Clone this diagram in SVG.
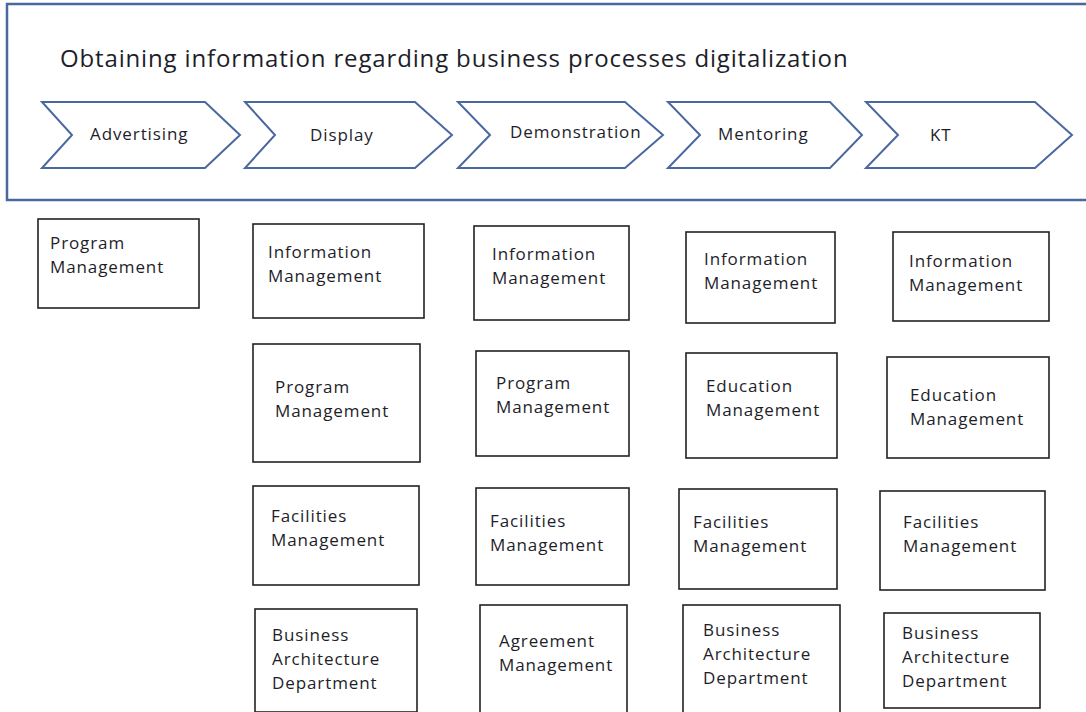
<svg xmlns="http://www.w3.org/2000/svg" width="1086" height="712" viewBox="0 0 1086 712">
<style>
.frame{fill:none;stroke:#4a68a0;stroke-width:2.5}
.chev{fill:#fff;stroke:#4a68a0;stroke-width:2}
.box{fill:#fff;stroke:#222;stroke-width:1.6}
.t{font-family:"Open Sans","Liberation Sans",sans-serif;fill:#1e1e2a}
.title{font-size:24px;letter-spacing:0.85px}
.lbl{font-size:17px;letter-spacing:0.9px}
.bt{font-size:17px;letter-spacing:0.9px}
</style>
<rect x="0" y="0" width="1086" height="712" fill="#fff"/>
<g id="frame">
<rect class="frame" x="7" y="4" width="1090" height="196"/>
<text class="t title" x="60" y="67">Obtaining information regarding business processes digitalization</text>
</g>
<g id="chevrons">
<g id="c-advertising"><polygon class="chev" points="42,102 205,102 240,135 205,168 42,168 72,135"/><text class="t lbl" x="90" y="140">Advertising</text></g>
<g id="c-display"><polygon class="chev" points="245,102 415,102 452,135 415,168 245,168 275,135"/><text class="t lbl" x="310" y="141">Display</text></g>
<g id="c-demonstration"><polygon class="chev" points="458,102 625,102 663,135 625,168 458,168 490,135"/><text class="t lbl" x="510" y="138">Demonstration</text></g>
<g id="c-mentoring"><polygon class="chev" points="668,102 830,102 862,135 830,168 668,168 700,135"/><text class="t lbl" x="718" y="140">Mentoring</text></g>
<g id="c-kt"><polygon class="chev" points="866,102 1035,102 1072,135 1035,168 866,168 898,135"/><text class="t lbl" x="930" y="141">KT</text></g>
</g>
<g id="connectors"></g>
<g id="boxes">
<g id="b1"><rect class="box" x="38" y="219" width="161" height="89"/><text class="t bt" x="50" y="249">Program</text><text class="t bt" x="50" y="273">Management</text></g>

<g id="b2a"><rect class="box" x="253" y="224" width="171" height="94"/><text class="t bt" x="268" y="258">Information</text><text class="t bt" x="268" y="282">Management</text></g>
<g id="b2b"><rect class="box" x="253" y="344" width="167" height="118"/><text class="t bt" x="275" y="393">Program</text><text class="t bt" x="275" y="417">Management</text></g>
<g id="b2c"><rect class="box" x="253" y="486" width="166" height="99"/><text class="t bt" x="271" y="522">Facilities</text><text class="t bt" x="271" y="546">Management</text></g>
<g id="b2d"><rect class="box" x="255" y="609" width="162" height="103"/><text class="t bt" x="272" y="641">Business</text><text class="t bt" x="272" y="665">Architecture</text><text class="t bt" x="272" y="689">Department</text></g>

<g id="b3a"><rect class="box" x="474" y="226" width="155" height="94"/><text class="t bt" x="492" y="260">Information</text><text class="t bt" x="492" y="284">Management</text></g>
<g id="b3b"><rect class="box" x="476" y="351" width="153" height="105"/><text class="t bt" x="496" y="389">Program</text><text class="t bt" x="496" y="413">Management</text></g>
<g id="b3c"><rect class="box" x="476" y="488" width="153" height="97"/><text class="t bt" x="490" y="527">Facilities</text><text class="t bt" x="490" y="551">Management</text></g>
<g id="b3d"><rect class="box" x="480" y="605" width="147" height="110"/><text class="t bt" x="499" y="647">Agreement</text><text class="t bt" x="499" y="671">Management</text></g>

<g id="b4a"><rect class="box" x="686" y="232" width="149" height="91"/><text class="t bt" x="704" y="265">Information</text><text class="t bt" x="704" y="289">Management</text></g>
<g id="b4b"><rect class="box" x="686" y="353" width="151" height="105"/><text class="t bt" x="706" y="392">Education</text><text class="t bt" x="706" y="416">Management</text></g>
<g id="b4c"><rect class="box" x="679" y="489" width="158" height="100"/><text class="t bt" x="693" y="528">Facilities</text><text class="t bt" x="693" y="552">Management</text></g>
<g id="b4d"><rect class="box" x="683" y="605" width="157" height="110"/><text class="t bt" x="703" y="636">Business</text><text class="t bt" x="703" y="660">Architecture</text><text class="t bt" x="703" y="684">Department</text></g>

<g id="b5a"><rect class="box" x="893" y="232" width="156" height="89"/><text class="t bt" x="909" y="267">Information</text><text class="t bt" x="909" y="291">Management</text></g>
<g id="b5b"><rect class="box" x="887" y="357" width="162" height="101"/><text class="t bt" x="910" y="401">Education</text><text class="t bt" x="910" y="425">Management</text></g>
<g id="b5c"><rect class="box" x="880" y="491" width="165" height="99"/><text class="t bt" x="903" y="528">Facilities</text><text class="t bt" x="903" y="552">Management</text></g>
<g id="b5d"><rect class="box" x="884" y="613" width="156" height="95"/><text class="t bt" x="902" y="639">Business</text><text class="t bt" x="902" y="663">Architecture</text><text class="t bt" x="902" y="687">Department</text></g>
</g>
</svg>
